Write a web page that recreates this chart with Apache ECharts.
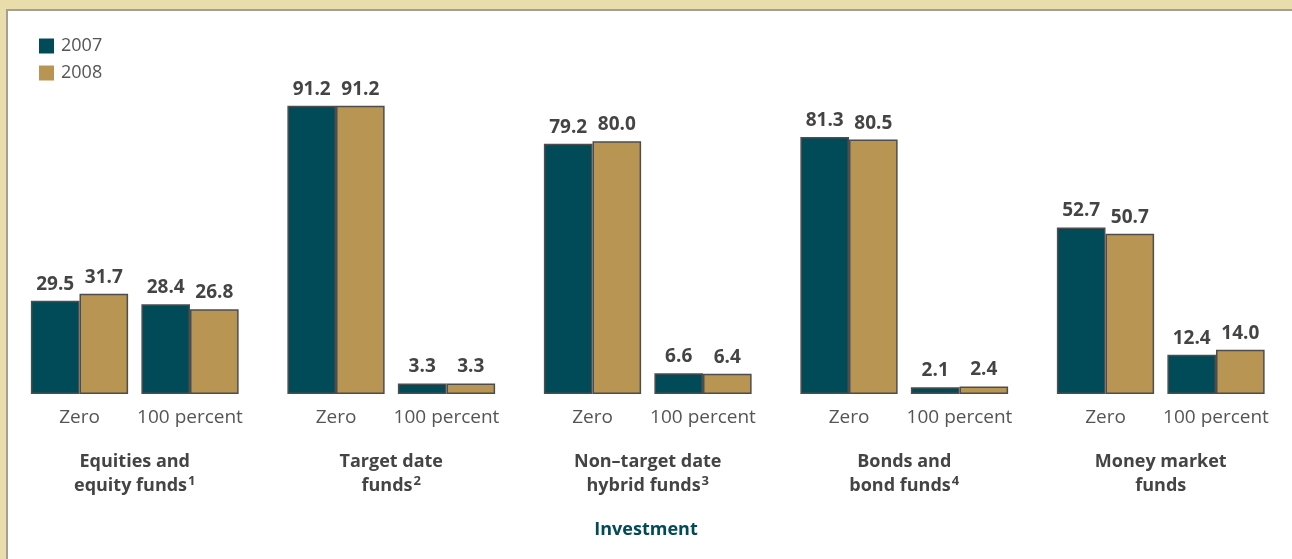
<!DOCTYPE html>
<html>
<head>
<meta charset="utf-8">
<script src="https://cdn.jsdelivr.net/npm/echarts@6/dist/echarts.min.js"></script>
<style>
  html, body { margin: 0; padding: 0; }
  body { width: 1292px; height: 559px; position: relative; background: #e9ddac; overflow: hidden; }
  #panel { position: absolute; left: 6px; top: 9px; right: 0; bottom: 0; background: #ffffff;
           border-top: 2px solid #a29f94; border-left: 2px solid #a29f94; }
  #chart { position: absolute; left: 0; top: 0; width: 1292px; height: 559px; }
</style>
</head>
<body>
<div id="panel"></div>
<div id="chart"></div>
<script>
// Share of participants holding each investment, by allocation level
const groupNames = [
  ['Equities and', 'equity funds', '1'],
  ['Target date', 'funds', '2'],
  ['Non\u2013target date', 'hybrid funds', '3'],
  ['Bonds and', 'bond funds', '4'],
  ['Money market', 'funds', '']
];
const levels = ['Zero', '100 percent'];
const years = ['2007', '2008'];
const values2007 = [29.5, 28.4, 91.2, 3.3, 79.2, 6.6, 81.3, 2.1, 52.7, 12.4];
const values2008 = [31.7, 26.8, 91.2, 3.3, 80.0, 6.4, 80.5, 2.4, 50.7, 14.0];
const axisTitle = 'Investment';

const colors = ['#004b57', '#b89552'];
const FONT = '"Open Sans", Lato, sans-serif';

const grids = [], xAxes = [], yAxes = [], series = [];
const groupStep = 256.5, firstLeft = 24.25, gridWidth = 221;

groupNames.forEach((g, i) => {
  grids.push({ left: firstLeft + groupStep * i, width: gridWidth, top: 78, bottom: 165, containLabel: false });
  const nameText = '{b|' + g[0] + '}\n{b|' + g[1] + '}' + (g[2] ? '{s|' + g[2] + '}' : '');
  xAxes.push({
    type: 'category', gridIndex: i, data: levels,
    axisLine: { show: false }, axisTick: { show: false },
    axisLabel: { interval: 0, color: '#555', fontSize: 19, fontFamily: FONT, margin: 14 },
    name: nameText, nameLocation: 'middle', nameGap: 56,
    nameTextStyle: {
      rich: {
        b: { fontSize: 18, fontWeight: 'bold', color: '#444', fontFamily: FONT, lineHeight: 24 },
        s: { fontSize: 13, fontWeight: 'bold', color: '#444', fontFamily: FONT, lineHeight: 24, verticalAlign: 'top', padding: [1, 0, 0, 1] }
      }
    }
  });
  yAxes.push({ type: 'value', gridIndex: i, min: 0, max: 100, show: false, splitLine: { show: false } });
  [values2007, values2008].forEach((vals, k) => {
    series.push({
      name: years[k], type: 'bar', xAxisIndex: i, yAxisIndex: i,
      data: vals.slice(i * 2, i * 2 + 2),
      barGap: 0, barCategoryGap: '12%',
      itemStyle: { color: colors[k], borderColor: '#4d4d4d', borderWidth: 1.5 },
      label: {
        show: true, position: 'top', distance: 7,
        formatter: p => p.value.toFixed(1),
        color: '#444', fontSize: 19, fontWeight: 'bold', fontFamily: FONT
      },
      animation: false
    });
  });
});

const chart = echarts.init(document.getElementById('chart'), null, { renderer: 'canvas' });
chart.setOption({
  backgroundColor: 'transparent',
  animation: false,
  title: {
    text: axisTitle, left: 'center', top: 516,
    textStyle: { color: '#004b57', fontSize: 18, fontWeight: 'bold', fontFamily: FONT }
  },
  legend: {
    data: years, orient: 'vertical', left: 34, top: 32,
    itemWidth: 15, itemHeight: 15, itemGap: 9, icon: 'rect',
    itemStyle: { borderWidth: 0 },
    textStyle: { color: '#555', fontSize: 18, fontFamily: FONT, padding: [0, 0, 0, 2] },
    selectedMode: false
  },
  grid: grids, xAxis: xAxes, yAxis: yAxes, series: series
});
</script>
</body>
</html>
